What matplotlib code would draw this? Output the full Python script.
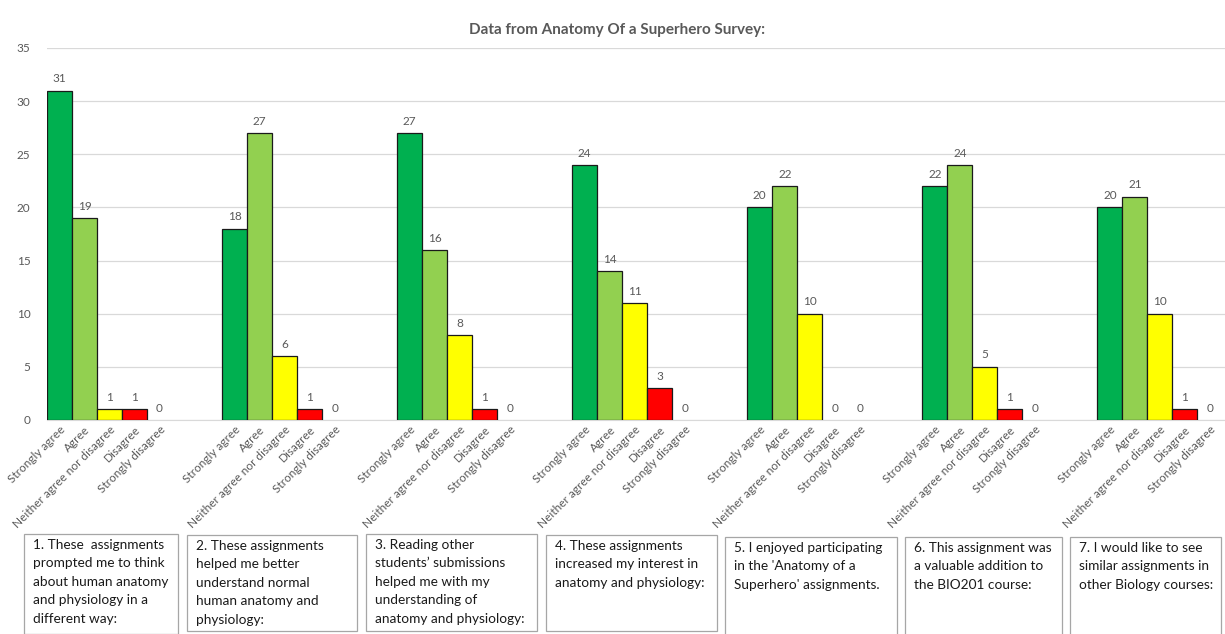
import matplotlib
matplotlib.use("Agg")
import matplotlib.pyplot as plt
from matplotlib.patches import Rectangle

plt.rcParams['font.family'] = ['Lato', 'DejaVu Sans']

title = "Data from Anatomy Of a Superhero Survey:"
responses = ["Strongly agree", "Agree", "Neither agree nor disagree", "Disagree", "Strongly disagree"]
colors = ["#00B050", "#92D050", "#FFFF00", "#FF0000", "#FFFFFF"]

q1 = [31, 19, 1, 1, 0]
q2 = [18, 27, 6, 1, 0]
q3 = [27, 16, 8, 1, 0]
q4 = [24, 14, 11, 3, 0]
q5 = [20, 22, 10, 0, 0]
q6 = [22, 24, 5, 1, 0]
q7 = [20, 21, 10, 1, 0]
series = [q1, q2, q3, q4, q5, q6, q7]

questions = [
    "1. These  assignments\nprompted me to think\nabout human anatomy\nand physiology in a\ndifferent way:",
    "2. These assignments\nhelped me better\nunderstand normal\nhuman anatomy and\nphysiology:",
    "3. Reading other\nstudents\u2019 submissions\nhelped me with my\nunderstanding of\nanatomy and physiology:",
    "4. These assignments\nincreased my interest in\nanatomy and physiology:",
    "5. I enjoyed participating\nin the 'Anatomy of a\nSuperhero' assignments.",
    "6. This assignment was\na valuable addition to\nthe BIO201 course:",
    "7. I would like to see\nsimilar assignments in\nother Biology courses:",
]
yticks = [0, 5, 10, 15, 20, 25, 30, 35]

W, H = 1225, 634
fig = plt.figure(figsize=(W / 100, H / 100), dpi=100)
ax = fig.add_axes([47 / W, 1 - 420 / H, (1225 - 47) / W, 372 / H])

grey = "#595959"
stride = 7
xs, labels = [], []
for g, vals in enumerate(series):
    for i, v in enumerate(vals):
        x = g * stride + i
        xs.append(x)
        labels.append(responses[i])
        if v > 0:
            ax.bar(x, v, width=1.0, color=colors[i], edgecolor="#1a1a1a", linewidth=0.9, zorder=3)
        ax.text(x, v + 0.6, str(v), ha="center", va="bottom", fontsize=8.5, color=grey, zorder=4)

ax.set_xlim(-0.5, 46.6)
ax.set_ylim(0, 35)
ax.set_yticks(yticks)
ax.set_yticklabels([str(t) for t in yticks], fontsize=8.5, color=grey)
ax.yaxis.grid(True, color="#D9D9D9", linewidth=0.9, zorder=0)
ax.set_axisbelow(True)
for s in ["top", "right", "left"]:
    ax.spines[s].set_visible(False)
ax.spines["bottom"].set_color("#D9D9D9")
ax.tick_params(axis="both", length=0)
ax.tick_params(axis="y", pad=12)
ax.set_xticks(xs)
ax.set_xticklabels(labels, rotation=45, ha="right", rotation_mode="anchor", fontsize=8.5, color=grey)
ax.tick_params(axis="x", pad=3)

fig.text(617 / W, 1 - 30 / H, title, ha="center", va="center", fontsize=11, fontweight="bold", color=grey)

boxes = [(24, 178, 534, 634), (187, 357, 535, 631), (366, 537, 534, 631), (546, 717, 535, 631),
         (725, 897, 537, 640), (905, 1062, 537, 640), (1070, 1221, 537, 640)]
for (x0, x1, y0, y1), q in zip(boxes, questions):
    fig.patches.append(Rectangle((x0 / W, 1 - y1 / H), (x1 - x0) / W, (y1 - y0) / H,
                                 transform=fig.transFigure, facecolor="white", edgecolor="#A6A6A6", linewidth=0.9))
    fig.text((x0 + 9) / W, 1 - (y0 + 5) / H, q, ha="left", va="top", fontsize=9.8,
             color="#1a1a1a", linespacing=1.64)

fig.savefig("out.png", dpi=100, facecolor="white")
